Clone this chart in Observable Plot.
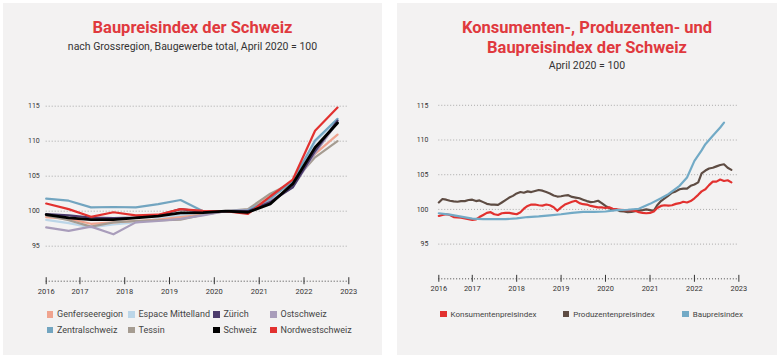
<!DOCTYPE html>
<html>
<head>
<meta charset="utf-8">
<script src="https://cdn.jsdelivr.net/npm/d3@7"></script>
<script src="https://cdn.jsdelivr.net/npm/@observablehq/plot@0.6"></script>
<style>
  html, body { margin: 0; padding: 0; background: #fff; }
  body { width: 780px; height: 355px; position: relative; overflow: hidden; font-family: Roboto, "Noto Sans", sans-serif; }
  .panel { position: absolute; top: 3px; height: 352px; background: #f3f2f2; }
  .title { position: absolute; left: 0; right: 0; text-align: center; color: #e0393e; font-weight: 700; font-size: 16.5px; line-height: 20px; }
  .sub { position: absolute; left: 0; right: 0; text-align: center; color: #333; font-size: 10.5px; line-height: 12px; }
  .chart { position: absolute; top: 0; }
  .leg { position: absolute; font-size: 9px; color: #444; white-space: nowrap; line-height: 10px; }
  .leg.small { font-size: 8px; }
  .leg i { display: inline-block; width: 6.5px; height: 6.5px; margin-right: 4px; vertical-align: -0.5px; }
</style>
</head>
<body>
<div class="panel" style="left:3px;width:379px;"></div>
<div class="panel" style="left:397px;width:380px;"></div>

<div class="title" style="left:3px;width:379px;right:auto;top:17.5px;">Baupreisindex der Schweiz</div>
<div class="sub" style="left:3px;width:379px;right:auto;top:40.5px;">nach Grossregion, Baugewerbe total, April 2020 = 100</div>

<div class="title" style="left:397px;width:380px;right:auto;top:17.5px;">Konsumenten-, Produzenten- und<br>Baupreisindex der Schweiz</div>
<div class="sub" style="left:397px;width:380px;right:auto;top:60px;">April 2020 = 100</div>

<div id="left" class="chart" style="left:0px;"></div>
<div id="right" class="chart" style="left:393.3px;"></div>
<div id="legends"></div>

<script>
// ---------- Data: left panel (semi-annual, April / October) ----------
const leftDates = ["2016-04-01","2016-10-01","2017-04-01","2017-10-01","2018-04-01","2018-10-01",
  "2019-04-01","2019-10-01","2020-04-01","2020-10-01","2021-04-01","2021-10-01","2022-04-01","2022-10-01"];
const genferseeregion  = [99.15, 98.9, 98.2, 98.4, 98.6, 98.8, 99.15, 99.5, 100, 100.1, 102.2, 104.1, 108.2, 110.95];
const espaceMittelland = [98.75, 98.3, 97.7, 98.1, 98.4, 98.9, 99.4, 99.7, 100, 100.1, 102.1, 104.1, 109.9, 113.0];
const zuerich          = [99.6, 99.4, 99.1, 99.0, 99.1, 99.4, 100.3, 99.9, 100, 100.0, 101.3, 103.4, 108.6, 112.95];
const ostschweiz       = [97.7, 97.2, 97.8, 96.7, 98.4, 98.6, 98.9, 99.4, 100, 100.2, 101.5, 103.4, 108.3, 112.7];
const zentralschweiz   = [101.8, 101.5, 100.55, 100.6, 100.55, 101.0, 101.6, 100.0, 100, 100.1, 101.8, 104.3, 110.1, 113.2];
const tessin           = [99.4, 98.7, 97.8, 98.4, 98.6, 98.7, 98.8, 99.5, 100, 100.3, 102.5, 104.1, 107.7, 110.0];
const schweiz          = [99.5, 99.05, 98.8, 98.8, 99.05, 99.3, 99.75, 99.8, 100, 99.85, 101.05, 103.9, 109.1, 112.6];
const nordwestschweiz  = [101.1, 100.3, 99.2, 99.85, 99.4, 99.5, 100.3, 100.05, 100, 99.6, 102.1, 104.5, 111.5, 114.8];

const leftSeries = [
  {name: "Genferseeregion",   values: genferseeregion,  color: "#f0a48f", width: 2.2},
  {name: "Espace Mittelland", values: espaceMittelland, color: "#bcd6e8", width: 2.2},
  {name: "Zürich",            values: zuerich,          color: "#4b3b6b", width: 2.2},
  {name: "Ostschweiz",        values: ostschweiz,       color: "#a99dbb", width: 2.2},
  {name: "Zentralschweiz",    values: zentralschweiz,   color: "#72a5c0", width: 2.2},
  {name: "Tessin",            values: tessin,           color: "#a59c91", width: 2.2},
  {name: "Schweiz",           values: schweiz,          color: "#000000", width: 2.8},
  {name: "Nordwestschweiz",   values: nordwestschweiz,  color: "#e2312f", width: 2.2}
];
const leftDrawOrder = ["Espace Mittelland","Genferseeregion","Tessin","Ostschweiz","Zentralschweiz","Zürich","Nordwestschweiz","Schweiz"];

// ---------- Data: right panel ----------
const monthlyStart = "2016-04-01"; // monthly series start (April 2016)
const konsumentenpreisindex = [
  99.05, 99.2, 99.3, 99.2, 98.9, 98.85, 98.8, 98.7, 98.6, 98.5, 98.55, 98.9,
  99.2, 99.5, 99.6, 99.3, 99.2, 99.45, 99.5, 99.5, 99.4, 99.3, 99.6, 100.1,
  100.5, 100.7, 100.7, 100.6, 100.55, 100.7, 100.6, 100.3, 99.8, 100.3, 100.7, 100.9,
  101.1, 101.25, 100.9, 100.75, 100.7, 100.5, 100.4, 100.3, 100.3, 100.2, 100.3, 100.1,
  100.0, 99.95, 99.9, 99.9, 99.85, 99.8, 99.6, 99.5, 99.45, 99.5, 99.7, 100.2,
  100.5, 100.6, 100.55, 100.6, 100.8, 100.9, 101.1, 101.0, 101.2, 101.6, 102.1, 102.6,
  102.9, 103.5, 104.0, 104.0, 104.3, 104.1, 104.2, 103.9];
const produzentenpreisindex = [
  101.0, 101.5, 101.4, 101.25, 101.15, 101.1, 101.2, 101.2, 101.35, 101.4, 101.2, 101.3,
  101.05, 100.8, 100.7, 100.7, 100.65, 101.0, 101.35, 101.7, 101.95, 102.3, 102.5, 102.4,
  102.6, 102.5, 102.65, 102.8, 102.7, 102.5, 102.3, 102.0, 101.85, 101.9, 102.0, 102.05,
  101.8, 101.7, 101.6, 101.4, 101.2, 101.05, 101.1, 101.25, 100.9, 100.5, 100.2, 99.9,
  100.0, 99.75, 99.7, 99.6, 99.65, 99.75, 99.85, 99.9, 100.0, 99.9, 99.8, 100.6,
  101.2, 101.6, 102.0, 102.4, 102.6, 102.9, 103.0, 103.0, 103.4, 103.6, 103.9, 105.2,
  105.6, 105.9, 106.0, 106.2, 106.4, 106.5, 106.0, 105.7];
const bauDates = ["2016-04-01","2016-07-01","2016-10-01","2017-01-01","2017-04-01","2017-07-01","2017-10-01",
  "2018-01-01","2018-04-01","2018-07-01","2018-10-01","2019-01-01","2019-04-01","2019-07-01","2019-10-01",
  "2020-01-01","2020-04-01","2020-07-01","2020-10-01","2021-01-01","2021-04-01","2021-06-01","2021-09-01",
  "2021-11-01","2022-01-01","2022-03-01","2022-04-01","2022-06-01","2022-08-01","2022-09-01"];
const baupreisindex = [99.45, 99.25, 98.95, 98.67, 98.6, 98.6, 98.6,
  98.7, 98.9, 99.0, 99.15, 99.3, 99.5, 99.65, 99.65,
  99.7, 99.9, 99.95, 100.1, 100.8, 101.6, 102.2, 103.4,
  104.6, 107.0, 108.5, 109.4, 110.6, 111.8, 112.5];

const rightSeries = [
  {name: "Konsumentenpreisindex", color: "#e2312f"},
  {name: "Produzentenpreisindex", color: "#5e4c43"},
  {name: "Baupreisindex",         color: "#72aac6"}
];

// ---------- Axis ticks ----------
const xTickDates = ["2016-04-01","2017-01-01","2018-01-01","2019-01-01","2020-01-01","2021-01-01","2022-01-01","2023-01-01"];
const yTicks = [95, 100, 105, 110, 115];
const xDomain = ["2016-04-01", "2023-01-01"];
const yDomain = [90, 115];

// ---------- Build rows ----------
const parse = s => new Date(s + "T00:00:00Z");
const leftRows = leftSeries.flatMap(s => s.values.map((v, i) => ({series: s.name, date: parse(leftDates[i]), value: v})));
const start = parse(monthlyStart);
const monthDate = i => new Date(Date.UTC(start.getUTCFullYear(), start.getUTCMonth() + i, 1));
const rightRows = [
  ...konsumentenpreisindex.map((v, i) => ({series: "Konsumentenpreisindex", date: monthDate(i), value: v})),
  ...produzentenpreisindex.map((v, i) => ({series: "Produzentenpreisindex", date: monthDate(i), value: v})),
  ...baupreisindex.map((v, i) => ({series: "Baupreisindex", date: parse(bauDates[i]), value: v}))
];

function basePlot(marks, yPad) {
  return Plot.plot({
    width: 390, height: 300,
    marginLeft: 45.7, marginRight: 41.7, marginTop: 105.7, marginBottom: 19.3,
    style: {background: "transparent", fontFamily: "Roboto, sans-serif", overflow: "visible"},
    x: {type: "utc", domain: xDomain.map(parse)},
    y: {domain: yDomain},
    marks: [
      Plot.gridY(yTicks, {stroke: "#8a8a8a", strokeOpacity: 0.7, strokeDasharray: "1,2", strokeWidth: 1}),
      Plot.axisY(yTicks, {tickSize: 0, tickPadding: yPad, fontSize: 7, fill: "#333", label: null}),
      Plot.ruleY([yDomain[0]], {stroke: "#444", strokeDasharray: "1,2", strokeWidth: 1}),
      Plot.axisX(xTickDates.map(parse), {tickSize: 7, dy: -3.5, tickPadding: 3.5, fontSize: 7.5, fill: "#333", stroke: "#333",
        tickFormat: d => String(d.getUTCFullYear()), label: null}),
      ...marks
    ]
  });
}

const leftMarks = leftDrawOrder.map(name => {
  const s = leftSeries.find(d => d.name === name);
  return Plot.lineY(leftRows.filter(d => d.series === name), {x: "date", y: "value", stroke: s.color, strokeWidth: s.width, strokeLinejoin: "round"});
});
document.getElementById("left").append(basePlot(leftMarks, 6.4));

const rightMarks = ["Produzentenpreisindex", "Konsumentenpreisindex", "Baupreisindex"].map(name => {
  const s = rightSeries.find(d => d.name === name);
  return Plot.lineY(rightRows.filter(d => d.series === name), {x: "date", y: "value", stroke: s.color, strokeWidth: 2.2, strokeLinejoin: "round"});
});
document.getElementById("right").append(basePlot(rightMarks, 10.5));

// ---------- Legends ----------
const legLeftCols = [46.5, 128, 213, 270];
const legRows = [309, 324.5];
const legendsEl = document.getElementById("legends");
const leftLegendOrder = ["Genferseeregion","Espace Mittelland","Zürich","Ostschweiz","Zentralschweiz","Tessin","Schweiz","Nordwestschweiz"];
leftLegendOrder.forEach((name, i) => {
  const s = leftSeries.find(d => d.name === name);
  const el = document.createElement("div");
  el.className = "leg";
  el.style.left = legLeftCols[i % 4] + "px";
  el.style.top = legRows[Math.floor(i / 4)] + "px";
  el.innerHTML = `<i style="background:${s.color}"></i>${name}`;
  legendsEl.append(el);
});
const legRightCols = [440, 562.7, 682.3];
rightSeries.forEach((s, i) => {
  const el = document.createElement("div");
  el.className = "leg small";
  el.style.left = legRightCols[i] + "px";
  el.style.top = (legRows[0] + 0.5) + "px";
  el.innerHTML = `<i style="background:${s.color}"></i>${s.name}`;
  legendsEl.append(el);
});
</script>
</body>
</html>
